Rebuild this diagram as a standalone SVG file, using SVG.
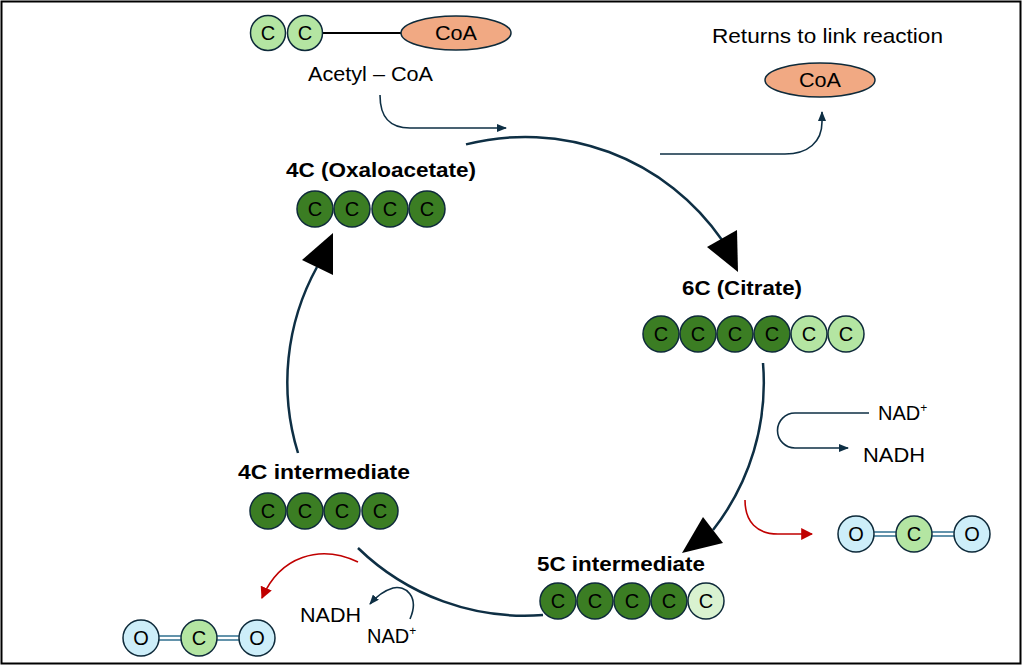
<svg xmlns="http://www.w3.org/2000/svg" width="1023" height="667" viewBox="0 0 1023 667">
<defs>
<style>
.t{font-family:"Liberation Sans",Arial,sans-serif;fill:#000}
.lbl{font-family:"Liberation Sans",Arial,sans-serif;font-weight:bold;font-size:20px;fill:#000}
.ct{font-family:"Liberation Sans",Arial,sans-serif;font-size:20px;fill:#000;text-anchor:middle}
.dg{fill:#3b7d23;stroke:#0e2a3a;stroke-width:1.5}
.lg{fill:#b4e5a2;stroke:#0e2a3a;stroke-width:1.5}
.vlg{fill:#d9f2d0;stroke:#0e2a3a;stroke-width:1.5}
.ox{fill:#cdeef9;stroke:#0e2a3a;stroke-width:1.5}
.coa{fill:#f1a983;stroke:#0e2a3a;stroke-width:1.5}
.cyc{fill:none;stroke:#0e2f44;stroke-width:2.5}
.thin{fill:none;stroke:#0e2f44;stroke-width:1.6}
.red{fill:none;stroke:#c00000;stroke-width:1.6}
.bond{stroke:#2f6f8f;stroke-width:1.5}
</style>
<marker id="ah" viewBox="0 0 10 8" refX="9" refY="4" markerWidth="10" markerHeight="8" markerUnits="userSpaceOnUse" orient="auto">
<path d="M0,0 L10,4 L0,8 Z" fill="#0e2f44"/>
</marker>
<marker id="ahr" viewBox="0 0 10 10" refX="9" refY="5" markerWidth="12" markerHeight="12" markerUnits="userSpaceOnUse" orient="auto">
<path d="M0,0 L10,5 L0,10 Z" fill="#c00000"/>
</marker>
</defs>
<rect x="0" y="0" width="1023" height="667" fill="#fff"/>
<rect x="1.5" y="1.5" width="1019" height="662" fill="none" stroke="#000" stroke-width="2"/>

<g id="connectors">
<path class="cyc" d="M466,144.4 A239,239 0 0 1 722,240"/>
<polygon points="707,247 737,230 738,272" fill="#000"/>
<path class="cyc" d="M763,363 A239,239 0 0 1 713,530"/>
<polygon points="703,517 723,543 682,553" fill="#000"/>
<path class="cyc" d="M358,548 A239,239 0 0 0 543,615"/>
<path class="cyc" d="M298,453 A239,239 0 0 1 317,267"/>
<polygon points="302,260 333,275 333,233" fill="#000"/>
<path class="thin" d="M380,95 C380,118 390,128 410,128 L506,128" marker-end="url(#ah)"/>
<path class="thin" d="M660,154 L785,154 C808,154 822,142 822,122 L822,112" marker-end="url(#ah)"/>
<path class="thin" d="M869,413 L795,413 A17.5,17.5 0 0 0 795,448 L848,448" marker-end="url(#ah)"/>
<path class="red" d="M745,500 C745,522 757,534 778,534 L812,534" marker-end="url(#ahr)"/>
<path class="red" d="M358,562 C320,544 280,556 262,598" marker-end="url(#ahr)"/>
<path class="thin" d="M410,619 C420,596 405,585 393,588 C383,591 376,597 370,604" marker-end="url(#ah)"/>
</g>

<g id="acetyl-coa">
<line x1="323" y1="33" x2="402" y2="33" stroke="#000" stroke-width="2.2"/>
<circle class="lg" cx="268" cy="33" r="17.5"/><text class="ct" x="268" y="40">C</text>
<circle class="lg" cx="305" cy="33" r="17.5"/><text class="ct" x="305" y="40">C</text>
<ellipse class="coa" cx="456" cy="33" rx="55" ry="17"/><text class="ct" x="456" y="40" font-size="20" textLength="42" lengthAdjust="spacingAndGlyphs">CoA</text>
<text class="t" x="308" y="81" font-size="20" textLength="125" lengthAdjust="spacingAndGlyphs">Acetyl – CoA</text>
</g>

<g id="coa-return">
<text class="t" x="712" y="43" font-size="21" textLength="231" lengthAdjust="spacingAndGlyphs">Returns to link reaction</text>
<ellipse class="coa" cx="820" cy="80" rx="55" ry="17"/><text class="ct" x="820" y="87" font-size="20" textLength="42" lengthAdjust="spacingAndGlyphs">CoA</text>
</g>

<g id="oxaloacetate">
<text class="lbl" x="286" y="177" textLength="190" lengthAdjust="spacingAndGlyphs">4C (Oxaloacetate)</text>
<circle class="dg" cx="315" cy="209" r="18"/><text class="ct" x="315" y="216">C</text>
<circle class="dg" cx="352" cy="209" r="18"/><text class="ct" x="352" y="216">C</text>
<circle class="dg" cx="390" cy="209" r="18"/><text class="ct" x="390" y="216">C</text>
<circle class="dg" cx="427" cy="209" r="18"/><text class="ct" x="427" y="216">C</text>
</g>

<g id="citrate">
<text class="lbl" x="682" y="295" textLength="120" lengthAdjust="spacingAndGlyphs">6C (Citrate)</text>
<circle class="dg" cx="661" cy="334" r="18"/><text class="ct" x="661" y="341">C</text>
<circle class="dg" cx="698" cy="334" r="18"/><text class="ct" x="698" y="341">C</text>
<circle class="dg" cx="735" cy="334" r="18"/><text class="ct" x="735" y="341">C</text>
<circle class="dg" cx="772" cy="334" r="18"/><text class="ct" x="772" y="341">C</text>
<circle class="lg" cx="809" cy="334" r="18"/><text class="ct" x="809" y="341">C</text>
<circle class="lg" cx="846" cy="334" r="18"/><text class="ct" x="846" y="341">C</text>
</g>

<g id="five-c">
<text class="lbl" x="537" y="571" textLength="168" lengthAdjust="spacingAndGlyphs">5C intermediate</text>
<circle class="dg" cx="558" cy="601" r="18"/><text class="ct" x="558" y="608">C</text>
<circle class="dg" cx="595" cy="601" r="18"/><text class="ct" x="595" y="608">C</text>
<circle class="dg" cx="632" cy="601" r="18"/><text class="ct" x="632" y="608">C</text>
<circle class="dg" cx="669" cy="601" r="18"/><text class="ct" x="669" y="608">C</text>
<circle class="vlg" cx="706" cy="601" r="18"/><text class="ct" x="706" y="608">C</text>
</g>

<g id="four-c">
<text class="lbl" x="238" y="479" textLength="172" lengthAdjust="spacingAndGlyphs">4C intermediate</text>
<circle class="dg" cx="268" cy="511" r="18"/><text class="ct" x="268" y="518">C</text>
<circle class="dg" cx="305" cy="511" r="18"/><text class="ct" x="305" y="518">C</text>
<circle class="dg" cx="342" cy="511" r="18"/><text class="ct" x="342" y="518">C</text>
<circle class="dg" cx="380" cy="511" r="18"/><text class="ct" x="380" y="518">C</text>
</g>

<g id="nad-right">
<text class="t" x="878" y="420" font-size="20">NAD<tspan font-size="12" dy="-8">+</tspan></text>
<text class="t" x="863" y="462" font-size="20" textLength="62" lengthAdjust="spacingAndGlyphs">NADH</text>
</g>

<g id="co2-right">
<line class="bond" x1="870" y1="532" x2="900" y2="532"/><line class="bond" x1="870" y1="536" x2="900" y2="536"/>
<line class="bond" x1="930" y1="532" x2="956" y2="532"/><line class="bond" x1="930" y1="536" x2="956" y2="536"/>
<circle class="ox" cx="856" cy="534" r="18"/><text class="ct" x="856" y="541">O</text>
<circle class="lg" cx="914" cy="534" r="18"/><text class="ct" x="914" y="541">C</text>
<circle class="ox" cx="972" cy="534" r="18"/><text class="ct" x="972" y="541">O</text>
</g>

<g id="nad-left">
<text class="t" x="300" y="622" font-size="20" textLength="61" lengthAdjust="spacingAndGlyphs">NADH</text>
<text class="t" x="367" y="643" font-size="20">NAD<tspan font-size="12" dy="-8">+</tspan></text>
</g>

<g id="co2-left">
<line class="bond" x1="155" y1="636" x2="185" y2="636"/><line class="bond" x1="155" y1="640" x2="185" y2="640"/>
<line class="bond" x1="213" y1="636" x2="243" y2="636"/><line class="bond" x1="213" y1="640" x2="243" y2="640"/>
<circle class="ox" cx="141" cy="638" r="18"/><text class="ct" x="141" y="645">O</text>
<circle class="lg" cx="199" cy="638" r="18"/><text class="ct" x="199" y="645">C</text>
<circle class="ox" cx="257" cy="638" r="18"/><text class="ct" x="257" y="645">O</text>
</g>
</svg>
